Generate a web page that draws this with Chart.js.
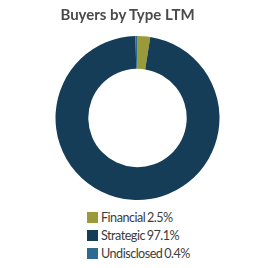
<!DOCTYPE html>
<html><head><meta charset="utf-8">
<script src="https://cdn.jsdelivr.net/npm/chart.js@4"></script>
<style>
html,body{margin:0;padding:0;background:#fff;}
#wrap{position:relative;width:275px;height:268px;}
#cv{position:absolute;left:0;top:0;}
#title{position:absolute;left:0;top:5px;width:255px;text-align:center;font-family:Lato,sans-serif;font-weight:bold;font-size:15px;color:#4a4a4a;}
#legend{position:absolute;left:87px;top:209px;font-family:Lato,sans-serif;font-size:12.6px;letter-spacing:-0.5px;word-spacing:-1px;color:#3c3c3c;}
.row{display:flex;align-items:center;height:17.7px;}
.box{width:11px;height:11px;margin-right:3px;}
</style></head>
<body><div id="wrap"><canvas id="cv" width="275" height="202"></canvas><div id="title"></div><div id="legend"></div></div>
<script>
const categories = ["Financial", "Strategic", "Undisclosed"];
const shares = [2.5, 97.1, 0.4];
const colors = ["#9b9a3b", "#163d57", "#2c6a94"];
const title = "Buyers by Type LTM";

document.getElementById('title').textContent = title;
const lg = document.getElementById('legend');
categories.forEach((c,i)=>{
  const r=document.createElement('div');r.className='row';
  const b=document.createElement('div');b.className='box';b.style.background=colors[i];
  const t=document.createElement('span');t.textContent=c+' '+shares[i]+'%';
  r.appendChild(b);r.appendChild(t);lg.appendChild(r);
});

new Chart(document.getElementById('cv'), {
  type:'doughnut',
  data:{labels:categories,datasets:[{data:shares,backgroundColor:colors,borderWidth:0}]},
  options:{
    responsive:false,animation:false,cutout:'60%',
    layout:{padding:{top:36,bottom:2}},
    plugins:{legend:{display:false},tooltip:{enabled:false},title:{display:false}}
  }
});
</script></body></html>
